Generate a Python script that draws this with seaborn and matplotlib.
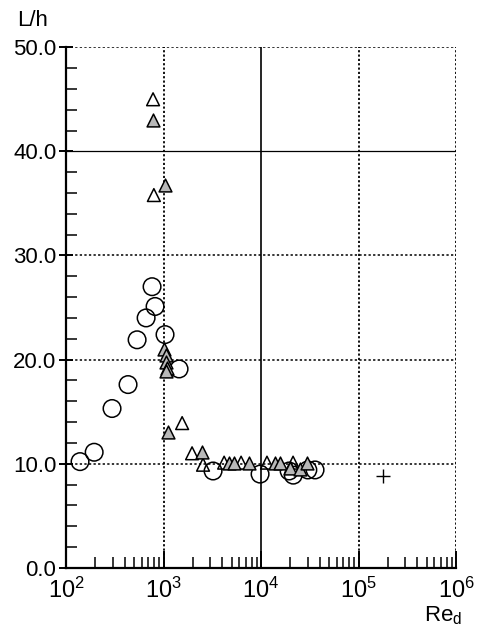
import matplotlib
matplotlib.use("Agg")
import matplotlib.pyplot as plt
import seaborn as sns
import pandas as pd
from matplotlib.ticker import FixedLocator, LogLocator, NullFormatter, MultipleLocator

sns.set_theme(style="white")
plt.rcParams['font.family'] = ['Liberation Sans', 'DejaVu Sans']
plt.rcParams['mathtext.fontset'] = 'custom'
plt.rcParams['mathtext.rm'] = 'Liberation Sans'
plt.rcParams['mathtext.it'] = 'Liberation Sans:italic'
plt.rcParams['text.color'] = 'black'
plt.rcParams['xtick.color'] = 'black'
plt.rcParams['ytick.color'] = 'black'

# Data
circle_re = [139, 194, 296, 432, 535, 662, 762, 818, 1035, 1442, 3220, 9770, 19400, 21400, 30200, 35800]
circle_lh = [10.2, 11.1, 15.3, 17.6, 21.9, 24.0, 27.0, 25.1, 22.4, 19.1, 9.3, 9.0, 9.3, 8.9, 9.4, 9.4]

open_tri_re = [780, 795, 1550, 1960, 2540, 4180, 6240, 11500, 21300]
open_tri_lh = [45.0, 35.8, 13.9, 11.0, 9.9, 10.1, 10.1, 10.1, 10.1]

hatch_tri_re = [780, 1035, 1000, 1050, 1060, 1080, 1050, 1110, 2480, 4700, 5290, 7540, 13900, 15700, 19800, 25100, 29600]
hatch_tri_lh = [43.0, 36.8, 21.0, 20.4, 19.8, 19.2, 18.9, 13.0, 11.1, 10.1, 10.1, 10.1, 10.1, 10.1, 9.6, 9.5, 10.1]

plus_re = [178000]
plus_lh = [8.8]

y_ticks = [0, 10, 20, 30, 40, 50]
x_ticks = [1e2, 1e3, 1e4, 1e5, 1e6]

fig = plt.figure(figsize=(4.79, 6.38), dpi=100)
ax = fig.add_axes([0.138, 0.11, 0.814, 0.816])

df_c = pd.DataFrame({"Re": circle_re, "Lh": circle_lh})
df_o = pd.DataFrame({"Re": open_tri_re, "Lh": open_tri_lh})
df_h = pd.DataFrame({"Re": hatch_tri_re, "Lh": hatch_tri_lh})
df_p = pd.DataFrame({"Re": plus_re, "Lh": plus_lh})

sns.scatterplot(data=df_c, x="Re", y="Lh", ax=ax, marker="o", s=160,
                facecolor="none", edgecolor="black", linewidth=1.1, zorder=3)
sns.scatterplot(data=df_o, x="Re", y="Lh", ax=ax, marker="^", s=85,
                facecolor="none", edgecolor="black", linewidth=1.1, zorder=3)
sns.scatterplot(data=df_h, x="Re", y="Lh", ax=ax, marker="^", s=85,
                facecolor="0.72", edgecolor="black", linewidth=1.1, zorder=3)
sns.scatterplot(data=df_p, x="Re", y="Lh", ax=ax, marker="+", s=110,
                color="black", linewidth=1.0, zorder=3)

ax.set_xscale("log")
ax.set_xlim(1e2, 1e6)
ax.set_ylim(0, 50)

# grid lines
for yv in [10, 20, 30, 50]:
    ax.axhline(yv, color="black", lw=1.1, ls=(0, (1.5, 1.5)), zorder=1)
ax.axhline(40, color="black", lw=0.9, ls="-", zorder=1)
for xv in [1e3, 1e5, 1e6]:
    ax.axvline(xv, color="black", lw=1.3, ls=(0, (1.2, 1.2)), zorder=1)
ax.axvline(1e4, color="black", lw=1.2, ls="-", zorder=1)

for side in ["top", "right"]:
    ax.spines[side].set_visible(False)
for side in ["left", "bottom"]:
    ax.spines[side].set_color("black")
    ax.spines[side].set_linewidth(1.6)

ax.yaxis.set_major_locator(FixedLocator(y_ticks))
ax.yaxis.set_minor_locator(MultipleLocator(2))
ax.set_yticklabels([f"{v:.1f}" for v in y_ticks])
ax.xaxis.set_major_locator(FixedLocator(x_ticks))
ax.xaxis.set_minor_locator(LogLocator(base=10, subs=range(2, 10)))
ax.xaxis.set_minor_formatter(NullFormatter())
ax.set_xticklabels([r"$10^{2}$", r"$10^{3}$", r"$10^{4}$", r"$10^{5}$", r"$10^{6}$"])

ax.tick_params(axis="y", which="major", direction="inout", length=10, width=1.4,
               labelsize=16, colors="black", left=True, pad=2)
ax.tick_params(axis="x", which="major", direction="in", length=12, width=1.4,
               labelsize=17, colors="black", bottom=True, pad=7)
ax.tick_params(axis="both", which="minor", direction="in", length=8, width=1.1,
               left=True, bottom=True, colors="black")

ax.set_xlabel("")
ax.set_ylabel("")
fig.text(0.035, 0.968, "L/h", fontsize=16, ha="left", va="center", color="black")
fig.text(0.885, 0.026, r"Re$_{\mathrm{d}}$", fontsize=16, ha="left", va="baseline", color="black")

fig.savefig("out.png", dpi=100)
